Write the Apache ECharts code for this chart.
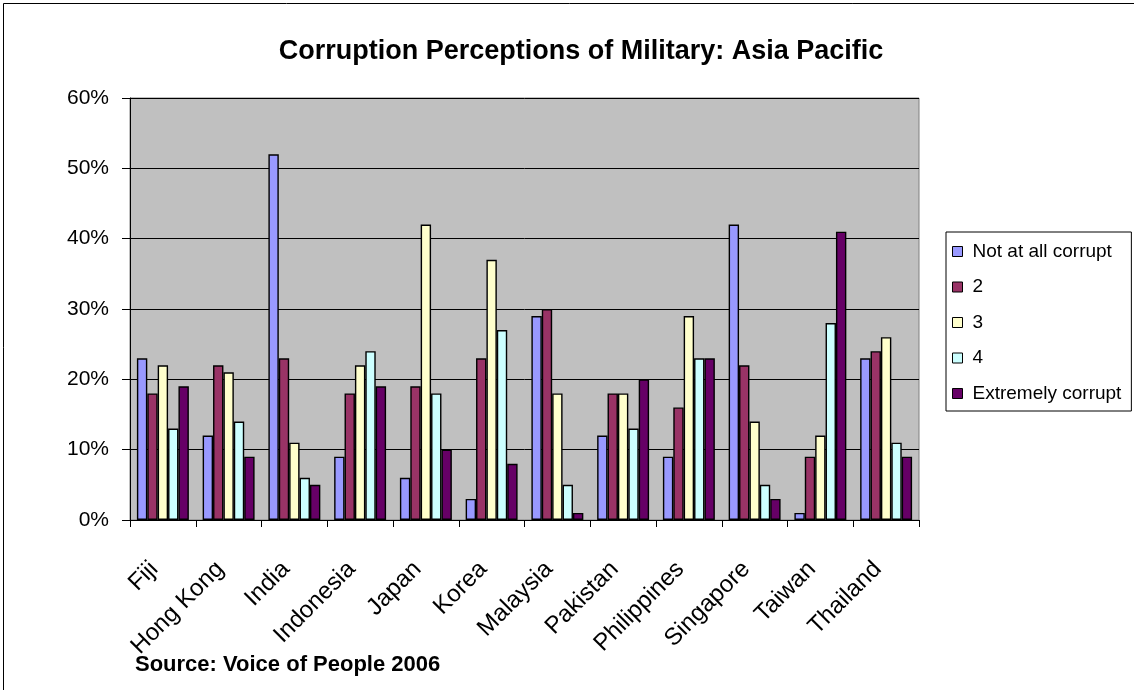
<!DOCTYPE html>
<html>
<head>
<meta charset="utf-8">
<script src="https://cdn.jsdelivr.net/npm/echarts@6/dist/echarts.min.js"></script>
<style>html,body{margin:0;padding:0;background:#fff;}#c{width:1134px;height:690px;}</style>
</head>
<body>
<div id="c"></div>
<script>
var categories = ['Fiji','Hong Kong','India','Indonesia','Japan','Korea','Malaysia','Pakistan','Philippines','Singapore','Taiwan','Thailand'];
var seriesNames = ['Not at all corrupt','2','3','4','Extremely corrupt'];
var notAtAll   = [23,12,52, 9, 6, 3,29,12, 9,42, 1,23];
var level2     = [18,22,23,18,19,23,30,18,16,22, 9,24];
var level3     = [22,21,11,22,42,37,18,18,29,14,12,26];
var level4     = [13,14, 6,24,18,27, 5,13,23, 5,28,11];
var extremely  = [19, 9, 5,19,10, 8, 1,20,23, 3,41, 9];
var yTicks = [0,10,20,30,40,50,60];
var colors = ['#9999FF','#993366','#FFFFCC','#CCFFFF','#660066'];
var titleText = 'Corruption Perceptions of Military: Asia Pacific';
var sourceText = 'Source: Voice of People 2006';

var values = [notAtAll, level2, level3, level4, extremely];
var FONT = '"Liberation Sans", Arial, sans-serif';
var chart = echarts.init(document.getElementById('c'), null, {renderer:'canvas'});
var series = seriesNames.map(function(n,i){
  return {
    name:n, type:'bar', data:values[i],
    barGap:'0%', barCategoryGap:'21%',
    itemStyle:{color:colors[i], borderColor:'#000', borderWidth:1.4},
    emphasis:{disabled:true}
  };
});
chart.setOption({
  animation:false,
  backgroundColor:'#fff',
  title:{text:titleText, left:576, top:33, textAlign:'center',
    textStyle:{fontFamily:FONT, fontWeight:'bold', fontSize:27, color:'#000'}},
  legend:{
    orient:'vertical', left:946, top:232,
    padding:[10,10,8,6], itemGap:16.5, itemWidth:10, itemHeight:10,
    borderColor:'#000', borderWidth:1, backgroundColor:'#fff',
    icon:'rect',
    itemStyle:{borderColor:'#000', borderWidth:1},
    textStyle:{fontFamily:FONT, fontSize:19, color:'#000', padding:[0,0,0,5]},
    data:seriesNames
  },
  grid:{left:130, top:98, right:215, bottom:170, show:true, backgroundColor:'#C0C0C0', borderColor:'#808080', borderWidth:1},
  xAxis:{
    type:'category', data:categories,
    axisLine:{lineStyle:{color:'#000', width:1}},
    axisTick:{show:true, length:7, lineStyle:{color:'#000'}},
    axisLabel:{interval:0, rotate:45, margin:37, padding:[0,12,0,0], fontFamily:FONT, fontSize:24, color:'#000'}
  },
  yAxis:{
    type:'value', min:0, max:60, interval:10,
    axisLine:{show:true, lineStyle:{color:'#000', width:1}},
    axisTick:{show:true, length:8, lineStyle:{color:'#000'}},
    splitLine:{show:true, lineStyle:{color:'#000', width:1}},
    axisLabel:{formatter:'{value}%', margin:21, fontFamily:FONT, fontSize:21, color:'#000'}
  },
  graphic:[
    {type:'rect', shape:{x:3.5, y:3.5, width:1140, height:700}, style:{fill:null, stroke:'#000', lineWidth:1}, silent:true, z:-1},
    {type:'text', left:135, top:654, style:{text:sourceText, font:'bold 22px "Liberation Sans", Arial, sans-serif', fill:'#000'}}
  ],
  series:series
});
</script>
</body>
</html>
